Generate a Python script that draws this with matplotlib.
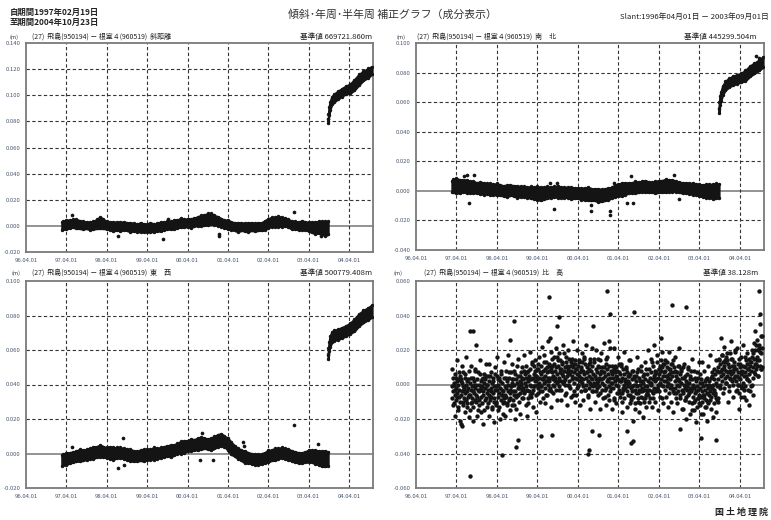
import numpy as np
import pandas as pd
import matplotlib
matplotlib.use('Agg')
import matplotlib.pyplot as plt
import matplotlib.dates as mdates

plt.rcParams['font.family'] = ['Noto Sans CJK JP', 'DejaVu Sans']

# ---- sample dates -------------------------------------------------------
# monthly samples of the steady band (1997-02-19 .. 2003-09-25)
band_dates = (pd.DatetimeIndex(['1997-02-19'])
              .append(pd.date_range('1997-03-01', '2003-09-01', freq='MS'))
              .append(pd.DatetimeIndex(['2003-09-25'])))
# samples after the jump of 2003-09-26
post_dates = pd.to_datetime(['2003-09-26', '2003-09-28', '2003-10-03', '2003-10-12', '2003-10-28',
                             '2003-11-20', '2003-12-20', '2004-01-25', '2004-03-01', '2004-04-10',
                             '2004-05-20', '2004-06-30', '2004-08-10', '2004-09-20', '2004-10-23'])

# ---- 斜距離 (mm) ---------------------------------------------------------
slant_mid = [0, 0.5, 1, 1.5, 2, 1.5, 1, 0.5, 0.5, 0, 0.5,
             1.5, 2.5, 1.5, 0.5, 0, -0.5, 0, -0.5, 0, -0.5, -1, -1,
             -1.5, -1, -1.5, -1.5, -1, -1.5, -1, -0.5, 0, 0.5, 0.5, 1,
             1.5, 2.5, 2, 2.5, 2, 3, 3.5, 4, 4.5, 5, 5.5, 4.5,
             3.5, 2.5, 1.5, 1, 0, -0.5, -1, -0.5, -1, -1, -0.5, -1,
             -0.5, -0.5, 0.5, 2, 3, 3, 3.5, 3, 3, 2, 0.5, 0.5,
             0, 0.5, 0, -0.5, -1, -1.5, -1, -1.5, -2, -1.5]
slant_half = [3, 3, 3.5, 3, 3, 3.5, 3, 3, 2.5, 3, 3,
              3.5, 4.5, 3.5, 3, 3, 3.5, 3, 3.5, 3, 3, 3.5, 3,
              3, 3.5, 3, 3, 3.5, 3, 3, 3.5, 3, 3, 3, 3.5,
              3, 3.5, 3, 3, 3.5, 3, 3.5, 4, 4, 4.5, 4, 3.5,
              3.5, 3, 3, 3.5, 3, 3, 3.5, 3, 3, 3.5, 3, 3,
              3, 3, 3.5, 3.5, 3.5, 3.5, 4, 3.5, 3, 3, 3, 3,
              3, 3.5, 3, 3.5, 4, 4.5, 4.5, 5, 5.5, 5]
slant_post_mid = [80, 84, 88, 92, 96, 98, 100, 102, 104, 105, 108, 112, 115, 117, 119]
slant_post_half = [1.5, 2, 3, 3, 3, 3, 3, 3, 3, 3.5, 4, 4, 3.5, 3.5, 3]
slant_out_dates = ['1997-05-26', '1998-07-16', '1999-08-25', '1999-10-05', '2001-01-08',
                   '2001-01-10', '2002-11-17', '2003-07-23']
slant_out_mm = [8.7, -8, -9.7, 5.6, -6, -8, 11, -8]

# ---- 南北 (mm) -----------------------------------------------------------
ns_mid = [3, 3.5, 3.5, 3, 3.5, 3, 2.5, 2.5, 2, 2, 1.5,
          1.5, 1, 1, 1, 0.5, 0, 0, 0.5, 0, -0.5, -0.5, -0.5,
          -1, -1, -1.5, -1.5, -2, -1.5, -1, -1, -0.5, -0.5, -1, -1,
          -1, -1.5, -1.5, -1.5, -2, -2, -2, -2.5, -2.5, -3, -3, -2.5,
          -2, -1, 0, 0.5, 1, 1.5, 2, 2, 2.5, 2.5, 3, 3,
          2.5, 2.5, 2.5, 3, 3, 3.5, 3.5, 3.5, 3, 2.5, 2, 2,
          1.5, 1.5, 1, 0.5, 0, 0, 0, -0.5, 0, 0]
ns_half = [4, 4.5, 5, 4.5, 4, 4.5, 4, 4, 3.5, 4, 4,
           3.5, 4, 3.5, 4, 3.5, 3.5, 4, 3.5, 3.5, 4, 3.5, 3.5,
           3.5, 4, 4, 4.5, 4.5, 4, 4, 3.5, 3.5, 4, 3.5, 3.5,
           3.5, 4, 3.5, 3.5, 4, 4, 4.5, 4, 4, 4.5, 4, 4,
           4, 3.5, 4, 4, 4.5, 4, 3.5, 3.5, 4, 3.5, 3.5, 4,
           3.5, 3.5, 4, 4, 4, 4.5, 4, 4, 3.5, 3.5, 3.5, 3.5,
           3.5, 4, 3.5, 4, 4, 4.5, 4.5, 5, 5, 4.5]
ns_post_mid = [54, 58, 61, 64, 68, 71, 73, 74.5, 75.5, 76.5, 78, 81, 83, 85, 87]
ns_post_half = [1.5, 2, 3, 3, 3, 3, 3, 3, 3, 3, 3.5, 3.5, 3.5, 3.5, 3.5]
ns_out_dates = ['1997-06-06', '1997-07-05', '1997-09-06', '1997-07-20', '1999-08-25', '1999-07-27',
                '1999-09-24', '2000-07-24', '2000-07-26', '2001-01-11', '2001-01-13', '2001-02-17',
                '2001-07-20', '2001-06-18', '2001-08-11', '2002-08-15', '2002-09-28', '2004-08-25',
                '2004-09-18']
ns_out_mm = [10, 11, 11, -8, -12, 5.6, 5.6, -9.4, -13.5, -13.5, -16.4, 5.6,
             10, -8, -8.5, 10.5, -5.6, 91.5, 90]

# ---- 東西 (mm) -----------------------------------------------------------
ew_mid = [-4, -3.5, -3, -2.5, -2, -1.5, -1, -1, -0.5, 0, 0.5,
          1, 1.5, 1, 0.5, 0.5, 0, 0.5, 0.5, 0, -0.5, -1, -1.5,
          -1.5, -1, -1, -0.5, -0.5, 0, 0, 0.5, 1, 1.5, 1.5, 2,
          3, 3.5, 4, 4.5, 5, 5, 5.5, 6, 6, 5.5, 5.5, 6.5,
          7.5, 8, 7, 5.5, 3, 1.5, 0, -1, -2, -2.5, -3, -3.5,
          -3.5, -3, -2.5, -1.5, -1, -0.5, 0, 0.5, 0, -0.5, -1.5, -2,
          -2.5, -2.5, -2, -1.5, -1.5, -2, -2.5, -3, -3, -3]
ew_half = [3, 3, 3.5, 3, 3, 3, 3.5, 3, 3, 3, 3.5,
           3, 3.5, 3, 3, 3.5, 3.5, 3, 3, 3, 3, 3.5, 3,
           3, 3, 3.5, 3, 3, 3.5, 3, 3, 3, 3, 3.5, 3,
           3, 3.5, 3.5, 3, 3.5, 3, 3.5, 3.5, 3, 3, 3.5, 3.5,
           3.5, 3.5, 3, 3.5, 3.5, 3, 3, 3, 3.5, 3, 3, 3,
           3, 3, 3, 3.5, 3, 3.5, 3, 3, 3, 3, 3, 3,
           3, 3, 3, 3.5, 3.5, 4, 4, 4.5, 4.5, 4]
ew_post_mid = [56, 59, 62, 65, 67.5, 68.5, 69, 70, 71, 72.5, 74.5, 77.5, 79.5, 81, 82.5]
ew_post_half = [1.5, 2, 2.5, 3, 3, 3, 3, 3, 3, 3, 3.5, 3.5, 3.5, 3.5, 3.5]
ew_out_dates = ['1997-05-22', '1998-08-29', '1998-08-31', '1998-07-08', '2000-07-24', '2000-11-14',
                '2002-11-17', '2003-06-21', '2000-08-07', '2001-08-19', '2001-08-21']
ew_out_mm = [3.9, 9, -6.4, -8.3, -4, -4, 16.6, 5.6, 11.6, 6.5, 4.2]

# ---- 比高 (mm) -----------------------------------------------------------
# one value every 4 days from 1997-02-19
up_mm = [
    -1, -8, 4, -4, -11, 1, -3, -6, 6, -9, -2, 2, -5, -13, 0, 3, -7, -3, 5, -10,
    -6, 3, -4, 1, -12, -1, 7, -8, -3, -5, 4, -9, 0, -4, -11, 2, -2, -7, 8, -6,
    1, -6, -11, -3, 4, -8, -1, -13, -4, 2, -5, -9, 8, -2, -10, 0, -7, 3, -15, -3,
    -4, 0, -9, 6, -3, -7, 2, -11, -1, 4, -6, -4, 1, -15, 3, -2, -8, 5, -5, 0,
    0, -11, -3, -6, 2, -9, 5, -4, -7, -2, -13, 1, -5, 4, -8, -1, -10, -3, 6, -12,
    -10, 5, -3, -7, 3, 0, -13, -5, 2, -2, -9, 6, -6, -3, 1, -11, -4, 4, -8, -1,
    -6, 8, -7, -2, 2, -11, -4, 0, -9, 4, -5, -3, -8, 7, -1, -12, 1, -4, 3, -6,
    0, -12, 6, -4, 3, -7, 1, 11, -6, -2, 5, -1, -10, 2, -5, 7, 0, -8, -3, 4,
    3, -2, 8, -5, 1, 6, -12, 4, -1, -3, 7, 2, -8, 5, -4, 0, 9, -6, 3, -1,
    -5, 13, 4, -3, 6, -1, 11, 2, 8, -6, 5, 0, 3, 12, -2, 9, 1, 4, -4, 7,
    6, -1, 11, 3, -4, 8, 4, 1, 13, -2, 5, 9, 2, -6, 7, 10, 0, 4, 12, -3,
    2, 11, 4, 9, -4, 7, 15, 0, 5, 3, 12, -1, 8, 4, -3, 10, 6, 1, 16, 2,
    11, 4, -1, 7, 14, 2, 9, -3, 6, 12, 5, 1, 18, 8, 0, 10, 3, 13, -5, 7,
    5, 9, 0, 15, 6, 2, 11, -2, 8, 13, 3, 5, 10, -6, 12, 7, 1, 14, 4, 9,
    9, -2, 6, 3, 11, 0, 14, 5, 2, 7, -4, 10, 4, 13, 1, 8, -1, 6, 15, -3,
    -3, 12, 4, 0, 10, 7, -6, 2, 9, 5, -2, 13, 1, 4, 8, -4, 3, 11, -1, 6,
    1, 15, 0, 5, 9, -4, 3, 7, -2, 11, 2, 4, -1, 14, 6, -5, 8, 3, 10, 1,
    4, -8, 10, 0, 7, -3, 5, 15, -2, 2, 9, 3, -6, 6, -1, 11, 4, -4, 1, 8,
    6, 1, 11, -2, 4, 9, -9, 7, 2, 0, 10, 5, -5, 8, -1, 3, 12, -3, 6, 2,
    -7, 11, 2, -5, 4, -3, 9, 0, 6, -8, 3, -2, 1, 10, -4, 7, -1, 2, -6, 5,
    1, -6, 6, -2, -9, 3, -1, -4, 8, -7, 0, 4, -3, -11, 2, 5, -5, -1, 7, -8,
    -5, 4, -3, 2, -11, 0, 8, -7, -2, -4, 5, -8, 1, -3, -10, 3, -1, -6, 9, -5,
    6, -1, -6, 2, 9, -3, 4, -8, 1, 7, 0, -4, 13, 3, -5, 5, -2, 8, -10, 2,
    3, 7, -2, 13, 4, 0, 9, -4, 6, 11, 1, 3, 8, -8, 10, 5, -1, 12, 2, 7,
    8, -3, 5, 2, 10, -1, 13, 4, 1, 6, -5, 9, 3, 12, 0, 7, -2, 5, 14, -4,
    -5, 10, 2, -2, 8, 5, -8, 0, 7, 3, -4, 11, -1, 2, 6, -6, 1, 9, -3, 4,
    -4, 10, -5, 0, 4, -9, -2, 2, -7, 6, -3, -1, -6, 9, 1, -10, 3, -2, 5, -4,
    -3, -15, 3, -7, 0, -10, -2, 8, -9, -5, 2, -4, -13, -1, -8, 4, -3, -11, -6, 1,
    -2, -7, 3, -10, -4, 1, -17, -1, -6, -8, 2, -3, -13, 0, -9, -5, 4, -11, -2, -6,
    2, -9, -1, -4, 4, -7, 7, -2, -5, 0, -11, 3, -3, 6, -6, 1, -8, -1, 8, -10,
    10, 3, 15, 7, 0, 12, 8, 5, 17, 2, 9, 13, 6, -2, 11, 14, 4, 8, 16, 1,
    5, 14, 7, 12, -1, 10, 18, 3, 8, 6, 15, 2, 11, 7, 0, 13, 9, 4, 19, 5,
    9, 2, -3, 5, 12, 0, 7, -5, 4, 10, 3, -1, 16, 6, -2, 8, 1, 11, -7, 5,
    7, 10, -1, 14, 5, 3, 12, -3, 9, 15, 2, 6, 11, -4, 13, 8, 0, 16, 4, 10,
    18, 7, 15, 12, 20, 9, 23, 14, 11, 16, 5, 20, 14, 23, 11, 19, 9, 18, 28, 10,
    21]
# the wider part of the cloud: one value every 8 days from 1997-02-21
up_wide_mm = [
    9, -12, 0, -18, 4, 14, -7, -15, 7, -21, 2, 11, -10, -2, -16, 6, 16, -13, 3, -19,
    -15, 11, -10, 4, -21, 0, 9, -6, -18, 7, -12, 14, -2, -16, 3, -23, 6, -9, 12, -13,
    5, -18, 12, -7, 7, -14, 2, -22, 10, -11, -1, 16, -15, 4, -20, 8, -6, -17, 13, -10,
    -18, 4, -12, 17, 7, -15, -1, 12, 3, -9, 8, -20, -14, -6, 15, -2, 5, -17, 1, 10,
    -8, 17, -4, 11, -18, 8, -11, 3, 19, -7, 12, -13, -1, 14, 5, -16, 9, -5, 16, -10,
    -1, 22, -8, 3, 17, -11, 13, -6, 25, 8, -2, 19, -13, 11, -5, 16, 2, 21, -9, 14,
    18, -3, 9, -9, 13, 23, 2, -6, 16, -12, 11, 20, -1, 7, -7, 15, 25, -4, 12, -10,
    -6, 20, -1, 13, -12, 9, 18, 3, -9, 16, -3, 23, 7, -7, 12, -14, 15, 0, 21, -4,
    13, -10, 20, 1, 15, -6, 10, -14, 18, -3, 7, 24, -7, 12, -12, 16, 2, -9, 21, -2,
    -14, 8, -8, 21, 11, -11, 3, 16, 7, -5, 12, -16, -10, -2, 19, 2, 9, -13, 5, 14,
    -11, 14, -7, 8, -21, 5, -14, 0, 16, -10, 9, -16, -4, 11, 2, -19, 6, -8, 13, -13,
    -3, 20, -10, 1, 15, -13, 11, -8, 23, 6, -4, 17, -15, 9, -7, 14, 0, 19, -11, 12,
    14, -7, 5, -13, 9, 19, -2, -10, 12, -16, 7, 16, -5, 3, -11, 11, 21, -8, 8, -14,
    -14, 12, -9, 5, -20, 1, 10, -5, -17, 8, -11, 15, -1, -15, 4, -22, 7, -8, 13, -12,
    6, -17, 13, -6, 8, -13, 3, -21, 11, -10, 0, 17, -14, 5, -19, 9, -5, -16, 14, -9,
    -8, 14, -2, 27, 17, -5, 9, 22, 13, 1, 18, -10, -4, 4, 25, 8, 15, -7, 11, 20,
    -4, 21, 0, 15, -14, 12, -7, 7, 23, -3, 16, -9, 3, 18, 9, -12, 13, -1, 20, -6,
    24, 6, 31, 12, 26, 5, 21, 35, 9, 28]
up_out_dates = ['1997-07-30', '1997-07-31', '1997-08-28', '1997-09-20', '1997-05-08', '1997-05-22',
                '1998-05-19', '1998-09-06', '1998-10-05', '1998-09-24', '1998-07-24', '1999-07-13',
                '1999-10-12', '1999-09-24', '1999-07-27', '1999-08-11', '1999-05-04', '2000-07-09',
                '2000-07-01', '2000-12-20', '2001-01-11', '2000-08-15', '2001-08-19', '2001-07-24',
                '2001-08-11', '2001-01-08', '2002-07-31', '2002-11-28', '2002-10-08', '2003-09-02',
                '2003-04-16', '2004-09-24', '2004-09-25', '2002-04-16', '2000-08-07', '2000-10-05',
                '2001-06-18']
up_out_mm = [-53, 31, 31, 23, -23, -24, -41, 37, -32, -36, 26, 51,
             39, 34, 27, -29, -30, -38, -40, 54, 41, 34, 42, -34,
             -33, 25, 46, 45, -26, -32, -31, 54, 41, 27, -27, -29, -27]

year_ticks = pd.date_range('1996-04-01', '2004-04-01', freq='12MS')
x_lo, x_hi = pd.Timestamp('1996-04-01'), pd.Timestamp('2004-11-04')

W, H = 771, 520
fig = plt.figure(figsize=(W / 100, H / 100), dpi=100)


def px(x, y):
    return x / W, 1 - y / H


def ftext(x, y, s, **kw):
    fx, fy = px(x, y)
    fig.text(fx, fy, s, **kw)


def make_axes(left, top, right, bottom, ylim):
    ax = fig.add_axes([left / W, 1 - bottom / H, (right - left) / W, (bottom - top) / H])
    ax.set_xlim(x_lo, x_hi)
    ax.set_ylim(*ylim)
    yt = np.round(np.arange(ylim[0], ylim[1] + 1e-9, 0.02), 3)
    ax.set_yticks(yt)
    ax.set_yticklabels(['%.3f' % v if v != 0 else '0.000' for v in yt])
    ax.set_xticks(year_ticks)
    ax.xaxis.set_major_formatter(mdates.DateFormatter('%y.%m.%d'))
    ax.tick_params(length=0, labelsize=4.3, colors='#4a5870', pad=4)
    for s in ax.spines.values():
        s.set_color('#7a7a7a')
        s.set_linewidth(1.3)
    for v in yt[1:-1]:
        if v == 0:
            ax.axhline(0, color='#8a8a8a', lw=1.3, zorder=1)
        else:
            ax.axhline(v, color='#333333', lw=0.8, ls=(0, (3, 2.2)), zorder=1)
    for d in year_ticks[1:]:
        ax.axvline(d, color='#333333', lw=0.8, ls=(0, (3, 2.2)), zorder=1)
    return ax


def draw_band(ax, dates, mid, half):
    mid = np.array(mid) / 1000
    half = np.array(half) / 1000
    ax.fill_between(dates, mid - half, mid + half, color='#141414', lw=1.6, zorder=3)
    ax.scatter(dates, mid + half, s=6, color='#141414', lw=0, zorder=3)
    ax.scatter(dates, mid - half, s=6, color='#141414', lw=0, zorder=3)


def draw_points(ax, dates, mm, s=7):
    ax.scatter(pd.to_datetime(dates), np.array(mm) / 1000, s=s, color='#141414', lw=0, zorder=4)


def panel_text(xm, x_title, y, title, ref_x, ref):
    ftext(xm, y, '(m)', fontsize=4, color='#333333', va='center')
    ftext(x_title, y, title, fontsize=5, color='#222222', va='center')
    ftext(ref_x, y, ref, fontsize=5.5, color='#222222', va='center', ha='right')


# 斜距離
ax1 = make_axes(26, 43, 373, 252, (-0.02, 0.14))
draw_band(ax1, band_dates, slant_mid, slant_half)
draw_band(ax1, post_dates, slant_post_mid, slant_post_half)
draw_points(ax1, slant_out_dates, slant_out_mm)
panel_text(9, 32, 37, '(27)  飛島(950194) － 根室４(960519)  斜距離', 372, '基準値 669721.860m')

# 南北
ax2 = make_axes(416, 43, 764, 250, (-0.04, 0.10))
draw_band(ax2, band_dates, ns_mid, ns_half)
draw_band(ax2, post_dates, ns_post_mid, ns_post_half)
draw_points(ax2, ns_out_dates, ns_out_mm)
panel_text(397, 417, 37, '(27)  飛島(950194) － 根室４(960519)  南　北', 757, '基準値 445299.504m')

# 東西
ax3 = make_axes(26, 281, 373, 488, (-0.02, 0.10))
draw_band(ax3, band_dates, ew_mid, ew_half)
draw_band(ax3, post_dates, ew_post_mid, ew_post_half)
draw_points(ax3, ew_out_dates, ew_out_mm)
panel_text(11, 32, 273, '(27)  飛島(950194) － 根室４(960519)  東　西', 372, '基準値 500779.408m')

# 比高
ax4 = make_axes(416, 281, 764, 488, (-0.06, 0.06))
up_dates = pd.date_range('1997-02-19', periods=len(up_mm), freq='4D')
up_wide_dates = pd.date_range('1997-02-21', periods=len(up_wide_mm), freq='8D')
draw_points(ax4, up_dates, up_mm, s=10)
draw_points(ax4, up_wide_dates, up_wide_mm, s=10)
draw_points(ax4, up_out_dates, up_out_mm, s=10)
panel_text(393, 424, 273, '(27)  飛島(950194) － 根室４(960519)  比　高', 758, '基準値 38.128m')

# header / footer
ftext(10, 12, '自期間1997年02月19日', fontsize=6, fontweight='bold', color='#222222', va='center')
ftext(10, 22, '至期間2004年10月23日', fontsize=6, fontweight='bold', color='#222222', va='center')
ftext(392, 15, '傾斜･年周･半年周 補正グラフ（成分表示）', fontsize=7.8, color='#333333',
      va='center', ha='center')
ftext(769, 17, 'Slant:1996年04月01日 － 2003年09月01日', fontsize=5.6, color='#222222',
      va='center', ha='right')
ftext(768, 512, '国 土 地 理 院', fontsize=6.5, fontweight='bold', color='#222222', va='center', ha='right')

fig.savefig('out.png', dpi=100)
